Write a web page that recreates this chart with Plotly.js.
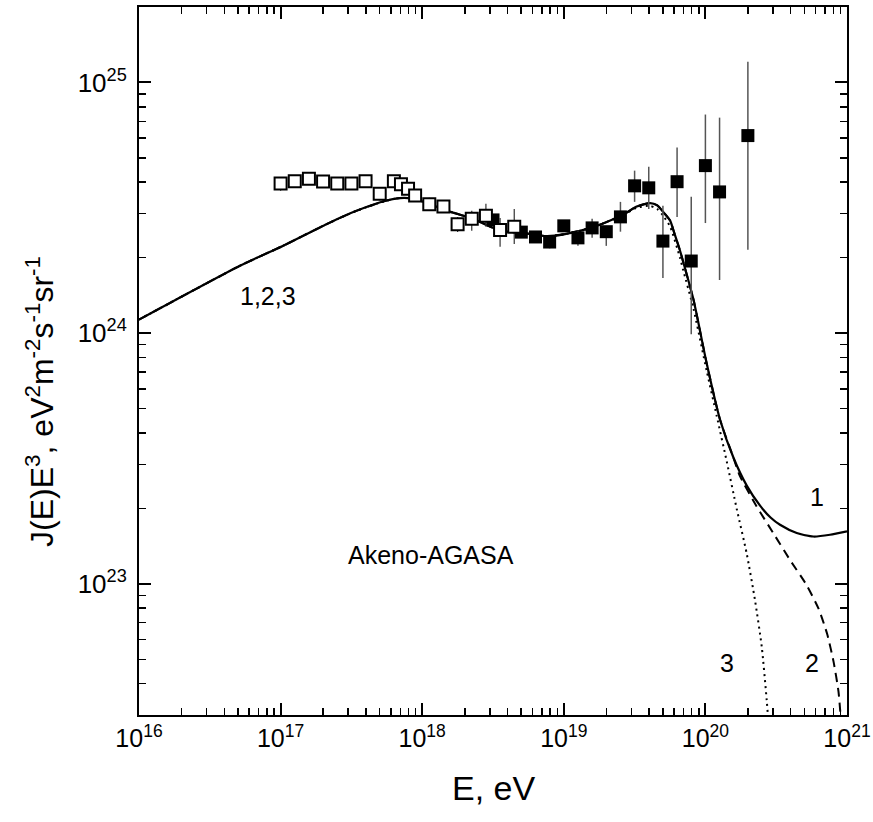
<!DOCTYPE html>
<html>
<head>
<meta charset="utf-8">
<script src="https://cdn.plot.ly/plotly-3.0.1.min.js"></script>
<style>html,body{margin:0;padding:0;background:#fff;}#chart{width:873px;height:822px;}</style>
</head>
<body>
<div id="chart"></div>
<script>
// ---- Data (energies as log10(E/eV), fluxes J(E)E^3 in units of 1e24 eV^2 m^-2 s^-1 sr^-1) ----
const akenoLogE = [17.0,17.1,17.2,17.3,17.4,17.5,17.6,17.7,17.8,17.85,17.9,17.95,18.05,18.15,18.25,18.35,18.45,18.55,18.65];
const akenoVal  = [3.95,4.04,4.13,4.03,3.95,3.95,4.04,3.60,4.04,3.93,3.77,3.54,3.27,3.20,2.72,2.86,2.94,2.58,2.66];
const akenoErrPlus  = [0.25,0.22,0.22,0.22,0.22,0.22,0.22,0.22,0.22,0.2,0.2,0.2,0.2,0.14,0.19,0.22,0.34,0.30,0.47];
const akenoErrMinus = [0.25,0.22,0.22,0.22,0.22,0.22,0.22,0.22,0.22,0.2,0.2,0.2,0.2,0.11,0.19,0.30,0.28,0.37,0.39];

const agasaLogE = [18.5,18.7,18.8,18.9,19.0,19.1,19.2,19.3,19.4,19.5,19.6,19.7,19.8,19.9,20.0,20.1,20.3];
const agasaVal  = [2.83,2.53,2.42,2.31,2.68,2.40,2.63,2.54,2.91,3.87,3.80,2.33,4.02,1.94,4.66,3.66,6.14];
const agasaErrPlus  = [0.12,0.12,0.12,0.13,0.15,0.16,0.23,0.14,0.43,0.58,0.81,0.89,1.48,1.56,2.79,3.58,5.96];
const agasaErrMinus = [0.12,0.12,0.12,0.13,0.15,0.17,0.23,0.31,0.37,0.53,0.67,0.67,1.11,0.95,1.91,2.03,3.99];

// Model curves: log10(E) and log10(J E^3)
const commonLogE = [16.0,16.713,17.019,17.328,17.540,17.749,17.843,17.93,18.032,18.173,18.359,18.549,18.710,18.879,19.008,19.208,19.409];
const commonLogJ = [24.054,24.269,24.349,24.436,24.489,24.529,24.539,24.537,24.52,24.489,24.456,24.409,24.40,24.387,24.395,24.423,24.469];

const curve1LogE = [19.515,19.609,19.66,19.70,19.751,19.78,19.821,19.844,19.915,20.009,20.103,20.197,20.292,20.386,20.46,20.527,20.645,20.762,20.880,21.0];
const curve1LogJ = [24.505,24.519,24.51,24.485,24.449,24.40,24.329,24.283,24.136,23.88,23.656,23.505,23.392,23.312,23.265,23.236,23.203,23.189,23.196,23.21];

const curve2LogE = [19.515,19.609,19.66,19.70,19.751,19.78,19.821,19.844,19.915,20.009,20.103,20.197,20.244,20.362,20.479,20.597,20.715,20.80,20.86,20.905,20.94,20.958];
const curve2LogJ = [24.505,24.519,24.51,24.485,24.449,24.40,24.329,24.283,24.136,23.88,23.656,23.505,23.43,23.309,23.203,23.096,22.995,22.90,22.80,22.69,22.57,22.45];

const curve3LogE = [19.515,19.609,19.66,19.70,19.751,19.821,19.844,19.915,20.009,20.080,20.150,20.221,20.292,20.350,20.398,20.433,20.445];
const curve3LogJ = [24.50,24.508,24.495,24.47,24.425,24.30,24.25,24.10,23.85,23.67,23.49,23.30,23.12,22.936,22.749,22.536,22.45];

const xMajorExp = [16,17,18,19,20,21];
const yMajorExp = [23,24,25];

// ---- helpers ----
const p10 = v => Math.pow(10, v);
const toE = a => a.map(p10);
const scale24 = a => a.map(v => v * 1e24);
const fullE = (tail) => toE(commonLogE.concat(tail));
const fullJ = (tail) => toE(commonLogJ.concat(tail));
const minorVals = (lo, hi) => {
  const out = [];
  for (let d = lo; d < hi; d++) for (let k = 2; k <= 9; k++) out.push(k * Math.pow(10, d));
  return out;
};

const FONT = 'Liberation Sans, Arial, Helvetica, sans-serif';

const traces = [
  {x: fullE(curve3LogE), y: fullJ(curve3LogJ), mode: 'lines', line: {color: '#000', width: 2, dash: '2px,4px', shape: 'spline', smoothing: 0.6}, hoverinfo: 'skip'},
  {x: fullE(curve2LogE), y: fullJ(curve2LogJ), mode: 'lines', line: {color: '#000', width: 2, dash: '9px,6px', shape: 'spline', smoothing: 0.6}, hoverinfo: 'skip'},
  {x: fullE(curve1LogE), y: fullJ(curve1LogJ), mode: 'lines', line: {color: '#000', width: 2.2, shape: 'spline', smoothing: 0.6}, hoverinfo: 'skip'},
  {x: toE(agasaLogE), y: scale24(agasaVal), mode: 'markers',
   marker: {symbol: 'square', size: 13, color: '#000'},
   error_y: {type: 'data', symmetric: false, array: scale24(agasaErrPlus), arrayminus: scale24(agasaErrMinus), color: '#555', thickness: 1.5, width: 0}},
  {x: toE(akenoLogE), y: scale24(akenoVal), mode: 'markers',
   marker: {symbol: 'square', size: 12, color: '#fff', line: {color: '#000', width: 2}},
   error_y: {type: 'data', symmetric: false, array: scale24(akenoErrPlus), arrayminus: scale24(akenoErrMinus), color: '#333', thickness: 1.2, width: 0}}
];

const axisCommon = {
  type: 'log', showgrid: false, zeroline: false,
  showline: true, linecolor: '#000', linewidth: 2, mirror: 'ticks',
  ticks: 'inside', ticklen: 12, tickwidth: 2, tickcolor: '#000',
  tickmode: 'array'
};

const layout = {
  width: 873, height: 822,
  margin: {l: 139, r: 26, t: 7, b: 107},
  paper_bgcolor: '#fff', plot_bgcolor: '#fff',
  showlegend: false,
  font: {family: FONT, color: '#000'},
  xaxis: Object.assign({}, axisCommon, {
    range: [16, 21],
    tickvals: xMajorExp.map(p10),
    ticktext: xMajorExp.map(e => '10<sup>' + e + '</sup>'),
    tickfont: {family: FONT, size: 25, color: '#000'},
    minor: {tickmode: 'array', tickvals: minorVals(16, 21), ticks: 'inside', ticklen: 7, tickwidth: 1.5, tickcolor: '#000', showgrid: false}
  }),
  yaxis: Object.assign({}, axisCommon, {
    range: [Math.log10(3e22), Math.log10(2e25)],
    tickvals: yMajorExp.map(p10),
    ticktext: yMajorExp.map(e => '10<sup>' + e + '</sup>'),
    tickfont: {family: FONT, size: 26, color: '#000'},
    ticklabelstandoff: 5,
    minor: {tickmode: 'array', tickvals: minorVals(22, 25).filter(v => v > 3e22), ticks: 'inside', ticklen: 7, tickwidth: 1.5, tickcolor: '#000', showgrid: false}
  }),
  annotations: [
    {xref: 'paper', yref: 'paper', x: 0.5, y: -0.103, xanchor: 'center', yanchor: 'middle', text: 'E, eV', showarrow: false, font: {family: FONT, size: 34, color: '#000'}},
    {xref: 'paper', yref: 'paper', x: -0.14, y: 0.4435, xanchor: 'center', yanchor: 'middle', textangle: -90, text: 'J(E)E<sup>3</sup>, eV<sup>2</sup>m<sup>-2</sup>s<sup>-1</sup>sr<sup>-1</sup>', showarrow: false, font: {family: FONT, size: 32, color: '#000'}},
    {x: 16.911, y: 24.149, xref: 'x', yref: 'y', text: '1,2,3', showarrow: false, font: {family: FONT, size: 25, color: '#000'}},
    {x: 18.062, y: 23.116, xref: 'x', yref: 'y', text: 'Akeno-AGASA', showarrow: false, font: {family: FONT, size: 25, color: '#000'}},
    {x: 20.788, y: 23.347, xref: 'x', yref: 'y', text: '1', showarrow: false, font: {family: FONT, size: 25, color: '#000'}},
    {x: 20.753, y: 22.685, xref: 'x', yref: 'y', text: '2', showarrow: false, font: {family: FONT, size: 25, color: '#000'}},
    {x: 20.153, y: 22.685, xref: 'x', yref: 'y', text: '3', showarrow: false, font: {family: FONT, size: 25, color: '#000'}}
  ]
};

Plotly.newPlot('chart', traces, layout, {staticPlot: true, displayModeBar: false});
</script>
</body>
</html>
